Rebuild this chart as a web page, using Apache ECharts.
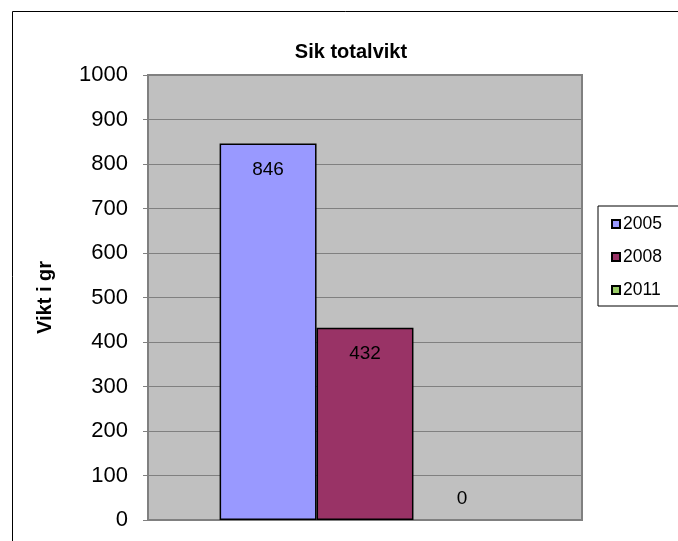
<!DOCTYPE html>
<html>
<head>
<meta charset="utf-8">
<script src="https://cdn.jsdelivr.net/npm/echarts@6/dist/echarts.min.js"></script>
<style>html,body{margin:0;padding:0;background:#fff}#c{width:678px;height:541px}</style>
</head>
<body>
<div id="c"></div>
<script>
const categories = [''];
const seriesNames = ['2005', '2008', '2011'];
const values2005 = [846];
const values2008 = [432];
const values2011 = [0];
const yTicks = [0, 100, 200, 300, 400, 500, 600, 700, 800, 900, 1000];

const colors = ['#9999FF', '#993366', '#99CC66'];
const allValues = [values2005, values2008, values2011];
const font = 'Liberation Sans, Arial, sans-serif';

const chart = echarts.init(document.getElementById('c'), null, {renderer: 'canvas'});
const series = seriesNames.map((name, i) => ({
  name: name,
  type: 'bar',
  barGap: 0,
  barCategoryGap: '33%',
  itemStyle: {color: colors[i], borderColor: '#000', borderWidth: 1.5},
  label: {show: true, fontFamily: font, fontSize: 19, color: '#000'},
  data: allValues[i].map(v => v === 0
    ? {value: v, itemStyle: {borderWidth: 0}, label: {position: 'top', distance: 12}}
    : {value: v, label: {position: 'insideTop', distance: 17}})
}));

chart.setOption({
  animation: false,
  backgroundColor: '#fff',
  title: {
    text: 'Sik totalvikt', left: 346, top: 37, textAlign: 'center',
    textStyle: {fontFamily: font, fontSize: 20, fontWeight: 'bold', color: '#000'}
  },
  legend: {
    orient: 'vertical', left: 606, top: 209,
    itemWidth: 8, itemHeight: 8, itemGap: 13, icon: 'rect',
    textStyle: {fontFamily: font, fontSize: 17.5, color: '#000', lineHeight: 20, padding: [0,0,0,-2]},
    data: seriesNames
  },
  grid: {
    left: 148, top: 75, width: 434, height: 445,
    show: true, backgroundColor: '#C0C0C0', borderColor: '#808080', borderWidth: 2
  },
  xAxis: {
    type: 'category', data: categories,
    axisLine: {lineStyle: {color: '#808080', width: 2}},
    axisTick: {show: false}, axisLabel: {show: false}
  },
  yAxis: {
    type: 'value', min: yTicks[0], max: yTicks[yTicks.length - 1], interval: 100,
    name: 'Vikt i gr', nameLocation: 'middle', nameGap: 93, nameRotate: 90,
    nameTextStyle: {fontFamily: font, fontSize: 20, fontWeight: 'bold', color: '#000'},
    axisLine: {show: true, lineStyle: {color: '#808080', width: 1}},
    axisTick: {show: true, length: 5, lineStyle: {color: '#808080'}},
    axisLabel: {fontFamily: font, fontSize: 22, color: '#000', margin: 20, formatter: v => String(v)},
    splitLine: {lineStyle: {color: '#808080', width: 1}}
  },
  graphic: [
    {type: 'rect', shape: {x: 12.5, y: 11.5, width: 700, height: 600}, style: {fill: 'none', stroke: '#000', lineWidth: 1}, silent: true},
    {type: 'rect', shape: {x: 598, y: 206, width: 100, height: 100}, style: {fill: '#fff', stroke: '#000', lineWidth: 1}, silent: true, z: -1}
  ],
  series: series
});
</script>
</body>
</html>
